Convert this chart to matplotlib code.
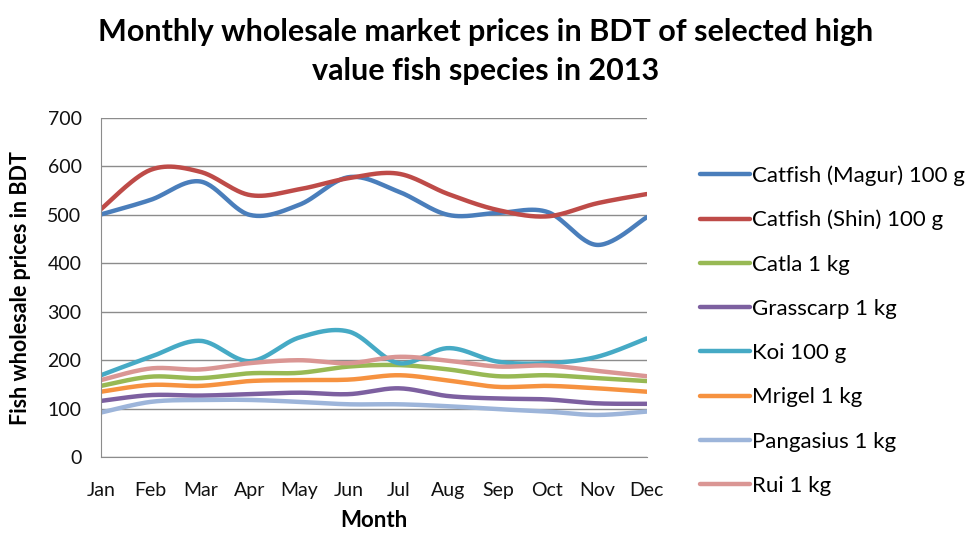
import numpy as np
import matplotlib
matplotlib.use("Agg")
import matplotlib.pyplot as plt

months = ["Jan", "Feb", "Mar", "Apr", "May", "Jun", "Jul", "Aug", "Sep", "Oct", "Nov", "Dec"]
magur = [501, 531, 569, 500, 521, 578, 548, 500, 504, 506, 438, 495]
shin = [512, 593, 589, 541, 553, 576, 585, 543, 510, 497, 524, 543]
catla = [147, 166, 163, 173, 174, 187, 190, 181, 167, 169, 163, 157]
grasscarp = [116, 128, 127, 130, 133, 130, 142, 126, 121, 119, 111, 110]
koi = [169, 207, 240, 198, 247, 259, 194, 225, 197, 194, 207, 245]
mrigel = [135, 149, 147, 157, 159, 160, 169, 158, 145, 147, 142, 135]
pangasius = [92, 114, 118, 118, 114, 109, 109, 105, 99, 94, 87, 94]
rui = [159, 183, 181, 194, 200, 194, 207, 199, 187, 189, 178, 167]

series = [
    ("Catfish (Magur) 100 g", magur, "#4A7EBB"),
    ("Catfish (Shin) 100 g", shin, "#BE4B48"),
    ("Catla 1 kg", catla, "#98B954"),
    ("Grasscarp 1 kg", grasscarp, "#7D60A0"),
    ("Koi 100 g", koi, "#46AAC5"),
    ("Mrigel 1 kg", mrigel, "#F69240"),
    ("Pangasius 1 kg", pangasius, "#9DB5DA"),
    ("Rui 1 kg", rui, "#DA9694"),
]


def smooth(x, y, n=30):
    # Catmull-Rom style Bezier smoothing (as Excel's smoothed line)
    x = np.asarray(x, float)
    y = np.asarray(y, float)
    px = np.concatenate([[x[0]], x, [x[-1]]])
    py = np.concatenate([[y[0]], y, [y[-1]]])
    xs, ys = [], []
    t = np.linspace(0, 1, n)
    for i in range(1, len(px) - 2):
        p0 = np.array([px[i], py[i]])
        p3 = np.array([px[i + 1], py[i + 1]])
        c1 = p0 + (np.array([px[i + 1], py[i + 1]]) - np.array([px[i - 1], py[i - 1]])) / 6
        c2 = p3 - (np.array([px[i + 2], py[i + 2]]) - np.array([px[i], py[i]])) / 6
        b = ((1 - t) ** 3)[:, None] * p0 + (3 * (1 - t) ** 2 * t)[:, None] * c1 \
            + (3 * (1 - t) * t ** 2)[:, None] * c2 + (t ** 3)[:, None] * p3
        xs.append(b[:, 0])
        ys.append(b[:, 1])
    return np.concatenate(xs), np.concatenate(ys)


plt.rcParams['font.family'] = ['Lato', 'DejaVu Sans']

fig = plt.figure(figsize=(9.71, 5.34), dpi=100)
ax = fig.add_axes([0.104, 0.144, 0.562, 0.635])

xi = np.arange(len(months))
for name, vals, col in series:
    sx, sy = smooth(xi, vals)
    ax.plot(sx, sy, color=col, lw=3.2, label=name, solid_capstyle='round')

ax.set_xlim(0, len(months) - 1)
ax.set_ylim(0, 700)
ax.set_yticks(range(0, 701, 100))
ax.set_xticks(xi)
ax.set_xticklabels(months)
ax.yaxis.grid(True, color="#8C8C8C", lw=1)
ax.set_axisbelow(True)
for s in ["top", "right"]:
    ax.spines[s].set_visible(False)
for s in ["left", "bottom"]:
    ax.spines[s].set_color("#8C8C8C")
ax.tick_params(axis='both', length=0, labelsize=14, colors="#111111")
ax.tick_params(axis='x', pad=18)
ax.tick_params(axis='y', pad=14)

ax.set_xlabel("Month", fontsize=16, fontweight='bold', labelpad=8)
ax.set_ylabel("Fish wholesale prices in BDT", fontsize=15.5, fontweight='bold', labelpad=12)

fig.text(0.5, 1 - 41 / 534, "Monthly wholesale market prices in BDT of selected high",
         ha='center', va='baseline', fontsize=22, fontweight='bold')
fig.text(0.5, 1 - 80 / 534, "value fish species in 2013",
         ha='center', va='baseline', fontsize=22, fontweight='bold')

leg = fig.legend(loc='upper left', bbox_to_anchor=(0.721, 1 - 165 / 534), frameon=False,
                 fontsize=16, handlelength=2.25, handletextpad=0.1, labelspacing=1.09,
                 borderpad=0, borderaxespad=0)
for h in leg.get_lines():
    h.set_linewidth(3.2)

fig.savefig("out.png", dpi=100)
